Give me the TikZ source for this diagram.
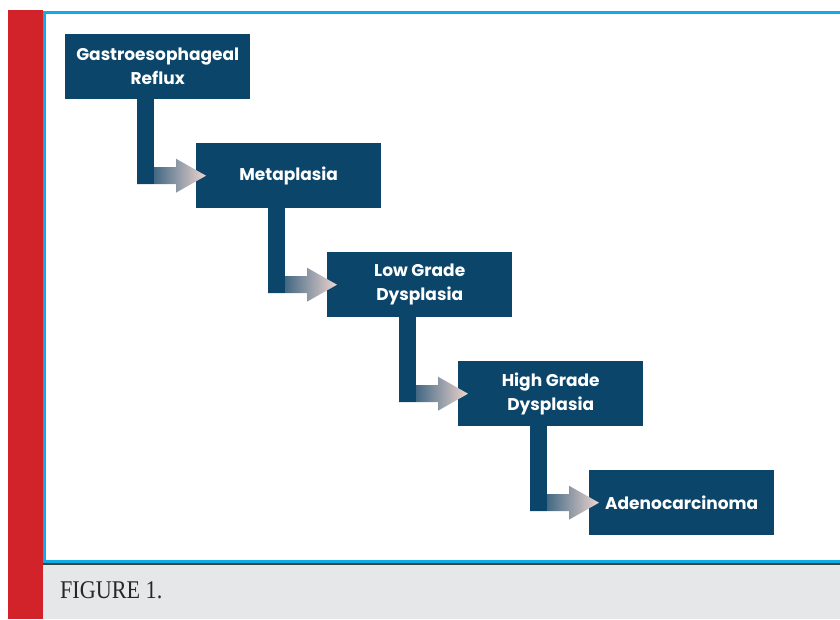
\documentclass[tikz,border=0pt]{standalone}
\usepackage{fontspec}
\setmainfont{Liberation Serif}
\newfontfamily\stagefont{Poppins}
\usetikzlibrary{calc}
\definecolor{navy}{HTML}{0B456A}
\definecolor{fade}{HTML}{EED5D0}
\definecolor{frameblue}{HTML}{0FACE6}
\definecolor{barred}{HTML}{D2232A}
\definecolor{capgray}{HTML}{E6E7E8}
\tikzset{
  stage/.style={fill=navy, text=white, anchor=north west, minimum width=185pt,
    minimum height=65pt, inner sep=0pt, align=center,
    font=\stagefont\bfseries\fontsize{17}{24}\selectfont},
}
\begin{document}
\begin{tikzpicture}[x=1pt,y=-1pt]
       \useasboundingbox (0,0) rectangle (840,619);
       \fill[barred] (8,10) rectangle (43,619);
       \fill[capgray] (43,564) rectangle (840,619);
       \draw[black!75, line width=1.2pt] (43,564) -- (840,564);
       \draw[frameblue, line width=3pt] (840,12.5) -- (44.5,12.5) -- (44.5,561.5) -- (840,561.5);
       \node[anchor=base west, text=black!85, xscale=0.87, font=\fontsize{25.5}{25.5}\selectfont] (caption) at (57,598) {FIGURE 1.};
       % stages
       \node[stage] (reflux) at (65,34) {Gastroesophageal\\Reflux};
       \node[stage] (meta) at (196,143) {Metaplasia};
       \node[stage] (low) at (327,252) {Low Grade\\Dysplasia};
       \node[stage] (high) at (458,361) {High Grade\\Dysplasia};
       \node[stage] (adeno) at (589,470) {Adenocarcinoma};
       % arrows
       \foreach \a/\b in {reflux/meta,meta/low,low/high,high/adeno}{
         \coordinate (stem) at ([xshift=72pt]\a.south west);
         \coordinate (head) at ([xshift=-20pt]\b.west);
         \coordinate (corner) at (stem |- head);
         \shade[left color=navy, right color=fade]
           ([yshift=8.5pt]corner) -- ([yshift=8.5pt]head) -- ([yshift=17pt]head)
           -- ([xshift=30pt]head) -- ([yshift=-17pt]head) -- ([yshift=-8.5pt]head)
           -- ([yshift=-8.5pt]corner) -- cycle;
         \fill[navy] (stem) rectangle ([xshift=17pt,yshift=-8.5pt]corner);
       }
    \end{tikzpicture}
\end{document}
